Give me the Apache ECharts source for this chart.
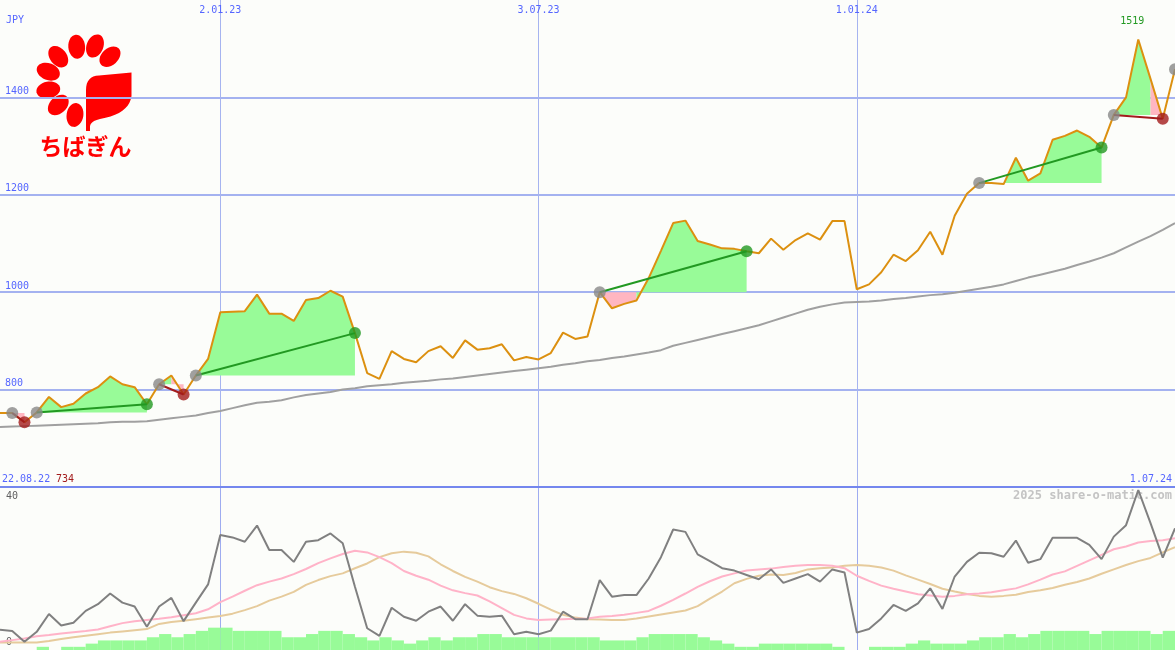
<!DOCTYPE html>
<html><head><meta charset="utf-8">
<script src="https://cdn.jsdelivr.net/npm/echarts@6/dist/echarts.min.js"></script>
<style>html,body{margin:0;padding:0;background:#fcfdfa;overflow:hidden}#c{width:1175px;height:650px}</style>
</head><body><div id="c"></div>
<script>
// ---- data ----
const startDate = '2022-08-29';
const tickIdx = [18, 44, 70];
const tickLabels = ['2.01.23', '3.07.23', '1.01.24'];
const priceTicks = [600, 800, 1000, 1200, 1400, 1600];
const price = [752,752,733,753,785,764,771,792,805,827,811,805,770,811,829,790,829,863,959,960,
  961,995,956,956,941,984,988,1003,991,916,834,822,879,863,856,879,889,865,901,882,
  885,893,860,867,862,875,917,904,909,1000,967,976,983,1029,1085,1142,1147,1105,1098,1090,
  1089,1084,1080,1110,1087,1107,1121,1108,1146,1146,1006,1016,1041,1077,1064,1086,1124,1077,1157,1202,
  1224,1224,1222,1276,1229,1244,1313,1321,1332,1319,1297,1364,1400,1519,1438,1356,1458];
const ma = [723,724,725,726,727,728,729,730,731,733,734,734,735,738,741,744,747,752,756,762,
  768,773,775,778,784,789,792,795,800,803,807,809,811,814,816,818,821,823,826,829,
  832,835,838,841,844,847,851,854,858,861,865,868,872,876,881,890,896,902,908,914,
  920,926,932,940,948,956,964,970,975,979,980,981,983,986,988,991,994,996,999,1003,
  1007,1011,1016,1023,1030,1036,1042,1048,1056,1063,1071,1080,1092,1104,1115,1128,1142];
// trades: [entryIndex, exitIndex, win]
const trades = [[1,2,false],[3,12,true],[13,15,false],[16,29,true],[49,61,true],[80,90,true],[91,95,false]];
const openEntries = [96];
const osc = [4.6,4.3,1.6,4.1,8.6,5.7,6.4,9.4,11.1,13.8,11.5,10.5,5.4,10.5,12.7,6.8,11.5,16.1,28.6,28.0,
  26.9,31.0,24.8,24.8,21.8,26.9,27.3,29.0,26.5,15.5,5.0,3.1,10.2,7.9,6.9,9.2,10.5,6.9,11.1,8.2,
  7.9,8.2,3.5,4.1,3.5,4.4,9.2,7.3,7.3,17.2,13.0,13.4,13.4,17.6,23.0,30.0,29.4,23.7,22.0,20.2,
  19.6,18.5,17.4,19.9,16.5,17.6,18.7,16.8,19.9,19.1,3.9,4.8,7.5,10.9,9.4,11.3,15.1,9.9,18.1,21.8,
  24.1,24.0,23.1,27.2,21.6,22.5,27.9,27.9,27.9,26.1,22.5,28.2,31.1,40.0,31.6,22.9,30.3];
const oscPink = [1.6,2.0,2.4,3.0,3.3,3.7,4.0,4.3,4.7,5.5,6.3,6.8,7.1,7.4,7.8,8.3,8.8,9.8,11.6,13.0,
  14.5,15.9,16.8,17.6,18.7,20.0,21.5,22.7,23.8,24.6,24.2,23.0,21.5,19.5,18.3,17.3,15.8,14.6,13.9,13.3,
  11.8,10.1,8.4,7.5,7.1,7.2,7.3,7.4,7.5,7.9,8.1,8.4,8.9,9.4,10.7,12.2,13.8,15.5,16.9,18.1,
  18.9,19.6,19.9,20.1,20.5,20.8,21.0,21.0,20.8,20.2,18.3,17.0,15.8,15.0,14.3,13.6,13.3,13.0,13.2,13.6,
  13.8,14.1,14.6,15.1,16.1,17.3,18.6,19.4,20.8,22.2,23.6,25.0,25.7,26.7,27.1,27.3,27.8];
const oscTan = [1.4,1.4,1.4,1.4,1.8,2.3,2.7,3.1,3.5,3.9,4.2,4.5,4.8,6.1,6.6,6.9,7.3,7.7,8.1,8.7,
  9.6,10.6,12.0,13.0,14.2,16.0,17.2,18.2,18.9,20.2,21.4,23.0,24.0,24.4,24.1,23.2,21.2,19.5,18.0,16.8,
  15.4,14.4,13.7,12.6,11.2,9.7,8.4,7.7,7.3,7.2,7.1,7.1,7.5,8.0,8.5,9.0,9.5,10.6,12.5,14.3,
  16.4,17.5,18.3,18.6,18.5,19.0,19.9,20.2,20.4,20.8,21.0,20.8,20.4,19.6,18.4,17.3,16.2,15.0,14.3,13.7,
  13.2,13.0,13.2,13.5,14.2,14.6,15.2,16.0,16.7,17.6,18.8,19.9,21.0,22.0,22.8,24.2,25.5];
const volume = [0,0,0,1,0,1,1,2,3,3,3,3,4,5,4,5,6,7,7,6,
  6,6,6,4,4,5,6,6,5,4,3,4,3,2,3,4,3,4,4,5,
  5,4,4,4,4,4,4,4,4,3,3,3,4,5,5,5,5,4,3,2,
  1,1,2,2,2,2,2,2,1,0,0,1,1,1,2,3,2,2,2,3,
  4,4,5,4,5,6,6,6,6,5,6,6,6,6,5,6];

// ---- build ----
const cats = [];
{ const d0 = new Date(startDate + 'T00:00:00Z');
  for (let i = 0; i < price.length; i++) {
    const d = new Date(d0.getTime() + i * 7 * 86400000);
    cats.push(d.getUTCDate() + '.' + String(d.getUTCMonth()+1).padStart(2,'0') + '.' + String(d.getUTCFullYear()).slice(2));
  }
}
const volCats = volume.map((v, i) => cats[i]);
const isTick = (i) => tickIdx.indexOf(i) >= 0;
const MONO = 'DejaVu Sans Mono';
const BLUE = '#5566ff';
const GREEN = '#229922', RED = '#a31c1c';
const FILL_UP = '#98fb98', FILL_DN = '#ffb6c1';
const GRIDC = '#a4b2f0';
// hide the split line at the very top (1600)
const splitColors = priceTicks.map((v, i) => i === priceTicks.length - 1 ? 'rgba(0,0,0,0)' : GRIDC);

const series = [];
series.push({type:'bar', xAxisIndex:2, yAxisIndex:2, data: volume, barWidth:'100%', barGap:'0%',
  itemStyle:{color:'#98fb98'}, silent:true, z:1, animation:false});
// trade fills: each weekly segment coloured by whether it ends above the entry price
trades.forEach(([e, x]) => {
  const base = price[e];
  let segStart = e, segUp = price[e + 1] >= base;
  const flush = (s, t, up) => {
    const d = price.map((v, i) => (i >= s && i <= t) ? v : null);
    series.push({type:'line', data: d, symbol:'none', lineStyle:{width:0}, connectNulls:false,
      areaStyle:{color: up ? FILL_UP : FILL_DN, opacity:1, origin: base}, z:2, silent:true, animation:false});
  };
  for (let j = e + 1; j < x; j++) {
    const up = price[j + 1] >= base;
    if (up !== segUp) { flush(segStart, j, segUp); segStart = j; segUp = up; }
  }
  flush(segStart, x, segUp);
});
series.push({type:'line', data: ma, symbol:'none', lineStyle:{color:'#a0a0a0', width:2}, z:3, animation:false});
series.push({type:'line', data: price, symbol:'none', lineStyle:{color:'#dc9010', width:2}, z:4, animation:false,
  markPoint:{symbol:'circle', symbolSize:1, itemStyle:{color:'rgba(0,0,0,0)'},
    label:{show:true, position:'top', distance:13, offset:[-6,0], color:GREEN, fontFamily:MONO, fontSize:10, formatter:'{c}'},
    data:[{type:'max'}]}});
trades.forEach(([e, x, win]) => {
  series.push({type:'line', data:[[e, price[e]], [x, price[x]]], symbol:'none',
    lineStyle:{color: win ? GREEN : RED, width:2}, z:5, animation:false});
});
const entryPts = trades.map(t => [t[0], price[t[0]]]).concat(openEntries.map(i => [i, price[i]]));
series.push({type:'scatter', data: entryPts, symbolSize:12, itemStyle:{color:'#888888'}, z:6, animation:false});
series.push({type:'scatter', data: trades.filter(t => t[2]).map(t => [t[1], price[t[1]]]), symbolSize:12, itemStyle:{color:GREEN}, z:6, animation:false});
series.push({type:'scatter', data: trades.filter(t => !t[2]).map(t => [t[1], price[t[1]]]), symbolSize:12, itemStyle:{color:RED}, z:6, animation:false});
// lower panel
series.push({type:'line', xAxisIndex:1, yAxisIndex:1, data: oscTan, symbol:'none', lineStyle:{color:'#e6cb9c', width:2}, z:3, animation:false});
series.push({type:'line', xAxisIndex:1, yAxisIndex:1, data: oscPink, symbol:'none', lineStyle:{color:'#ffb3c8', width:2}, z:3, animation:false});
series.push({type:'line', xAxisIndex:1, yAxisIndex:1, data: osc, symbol:'none', lineStyle:{color:'#808080', width:2}, z:4, animation:false});

// logo
const petals = [[76.7,46.7],[95,46],[110,56.7],[58.3,56.7],[48.3,71.7],[48.3,90],[58.3,105],[75,115]];
const ringC = [80, 84];
const logo = petals.map(([px, py]) => ({
  type:'ellipse', x:px, y:py, rotation: -Math.atan2(py - ringC[1], px - ringC[0]),
  shape:{cx:0, cy:0, rx:12, ry:8.4}, style:{fill:'#ff0000'}, silent:true
}));
function quad(p0, c, p1, n) {
  const out = [];
  for (let k = 1; k <= n; k++) {
    const t = k / n, u = 1 - t;
    out.push([u*u*p0[0] + 2*u*t*c[0] + t*t*p1[0], u*u*p0[1] + 2*u*t*c[1] + t*t*p1[1]]);
  }
  return out;
}
const leafPts = [[86,131],[86,90]]
  .concat(quad([86,90],[86,76],[99,75.5],8))
  .concat([[131.5,72.5],[131.5,96]])
  .concat(quad([131.5,96],[129,114],[100,119],10))
  .concat(quad([100,119],[91,121],[90,126],5))
  .concat([[90,131]]);
logo.push({type:'polygon', shape:{points: leafPts}, style:{fill:'#ff0000'}, silent:true});
logo.push({type:'text', x:85.5, y:146, style:{text:'ちばぎん', fill:'#ff0000', font:'bold 23px "Noto Sans CJK JP"', align:'center', verticalAlign:'middle'}, silent:true});

const graphics = logo.concat([
  {type:'text', x:6, y:20, style:{text:'JPY', fill:BLUE, font:'10px ' + MONO, verticalAlign:'middle'}},
  {type:'text', x:2, y:479, style:{text:'22.08.22', fill:BLUE, font:'10px ' + MONO, verticalAlign:'middle'}},
  {type:'text', x:56, y:479, style:{text:'734', fill:RED, font:'10px ' + MONO, verticalAlign:'middle'}},
  {type:'text', x:1172, y:479, style:{text:'1.07.24', fill:BLUE, font:'10px ' + MONO, align:'right', verticalAlign:'middle'}},
  {type:'text', x:1172, y:496, style:{text:'2025 share-o-matic.com', fill:'#c4c4c4', font:'bold 12px ' + MONO, align:'right', verticalAlign:'middle'}},
  {type:'text', x:6, y:496, style:{text:'40', fill:'#606060', font:'10px ' + MONO, verticalAlign:'middle'}},
  {type:'text', x:6, y:642, style:{text:'0', fill:'#606060', font:'10px ' + MONO, verticalAlign:'middle'}}
]);

const chart = echarts.init(document.getElementById('c'), null, {renderer:'canvas'});
chart.setOption({
  backgroundColor:'#fcfdfa',
  animation:false,
  grid:[{left:0, right:0, top:-1, height:488}, {left:0, right:0, top:487, bottom:0}],
  xAxis:[
    {type:'category', gridIndex:0, data:cats, boundaryGap:false, position:'top',
      axisLine:{show:false, onZero:false}, axisTick:{show:false},
      axisLabel:{show:true, inside:true, interval:(i) => isTick(i), margin:5, color:BLUE, fontFamily:MONO, fontSize:10,
        formatter:(v, i) => { const k = tickIdx.indexOf(i); return k >= 0 ? tickLabels[k] : ''; }},
      splitLine:{show:true, interval:(i) => isTick(i), lineStyle:{color:'#a6b4f0', width:1}}},
    {type:'category', gridIndex:1, data:cats, boundaryGap:false, position:'top',
      axisLine:{show:true, onZero:false, lineStyle:{color:'#7487ee', width:2}}, axisTick:{show:false}, axisLabel:{show:false},
      splitLine:{show:true, interval:(i) => isTick(i), lineStyle:{color:'#9eacf0', width:1}}},
    {type:'category', gridIndex:1, data:volCats, boundaryGap:true, show:false}
  ],
  yAxis:[
    {type:'value', gridIndex:0, min:priceTicks[0], max:priceTicks[priceTicks.length-1], interval:200,
      axisLine:{show:false}, axisTick:{show:false},
      axisLabel:{inside:true, showMinLabel:false, showMaxLabel:false, verticalAlign:'bottom', margin:5, color:BLUE, fontFamily:MONO, fontSize:10, padding:[0,0,1,0],
        formatter:(v) => String(v)},
      splitLine:{lineStyle:{color:splitColors, width:2}}},
    {type:'value', gridIndex:1, min:-0.5, max:40.76, show:false, splitLine:{show:false}},
    {type:'value', gridIndex:1, min:0, max:51.1, show:false, splitLine:{show:false}}
  ],
  series: series,
  graphic: graphics
});
</script>
</body></html>
